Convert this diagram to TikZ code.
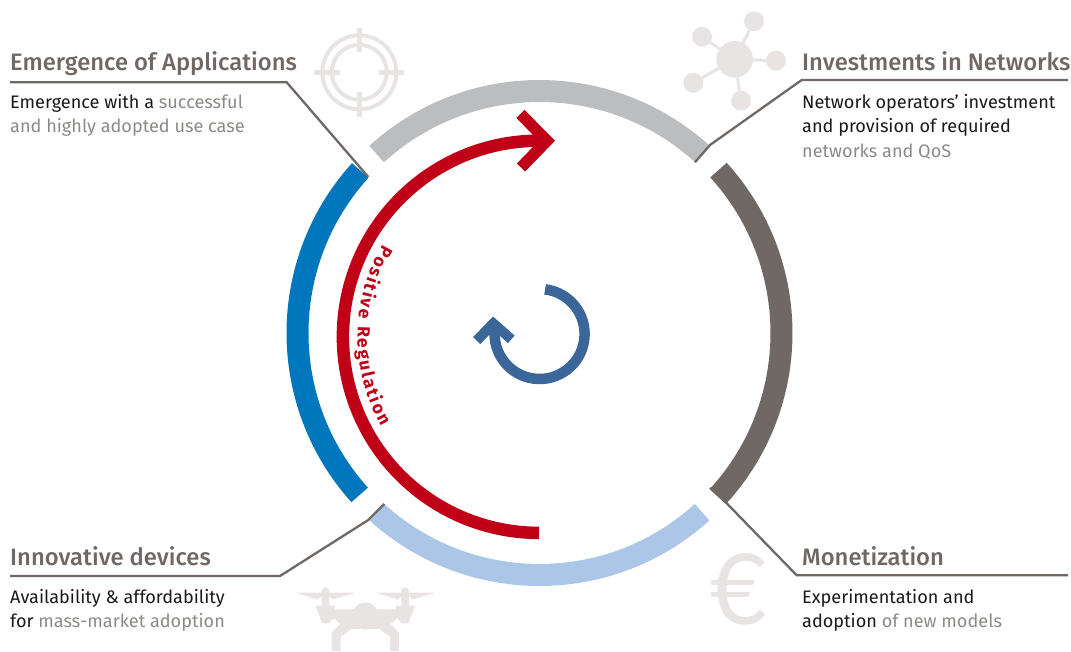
\documentclass[tikz,border=0pt]{standalone}
\usepackage{fontspec}
\setmainfont{Fira Sans}
\newfontfamily\headfont{Fira Sans Medium}
\newfontfamily\euroglyph{Lato}
\usetikzlibrary{decorations.text}

\definecolor{ringblue}{HTML}{0077BC}
\definecolor{ringgrey}{HTML}{BBBDBF}
\definecolor{ringbrown}{HTML}{6F6864}
\definecolor{ringsky}{HTML}{ABC6E6}
\definecolor{loopred}{HTML}{C00017}
\definecolor{loopblue}{HTML}{3B6699}
\definecolor{iconfill}{HTML}{E7E4E3}
\definecolor{softtext}{HTML}{8E8987}

\tikzset{
  segment/.style={line width=22pt},
  leader/.style={draw=ringbrown,line width=2.3pt},
  headlabel/.style={anchor=base west,inner sep=0pt,text=ringbrown,font=\headfont\fontsize{23.8}{28}\selectfont},
  bodylabel/.style={anchor=base west,inner sep=0pt,text=black!90,font=\fontsize{18.1}{22}\selectfont},
}

\begin{document}
\begin{tikzpicture}[x=1pt,y=1pt]
  \useasboundingbox (0,0) rectangle (1071,651);

  \newcommand\ringarc[4]{\draw[segment,#1] ([shift={(ringc)}]#2:#4) arc[start angle=#2,end angle=#3,radius=#4];}

  \coordinate (ringc) at (539.5,318);
  \coordinate (loopc) at (539,314.2);
  \coordinate (turnc) at (539.6,317);

  % icons first, everything else sits on top
  % target
  \coordinate (target) at (359.3,578.7);
  \draw[iconfill,line width=4pt] (target) circle (37) (target) circle (27.5);
  \draw[iconfill,line width=4.5pt]
    (314.3,578.7) -- (340,578.7) (379,578.7) -- (404,578.7)
    (359.3,623.3) -- (359.3,598.7) (359.3,558.7) -- (359.3,533.7);

  % network
  \node[circle,fill=iconfill,minimum size=36.6pt,inner sep=0pt] (hub) at (734.7,591.7) {};
  \foreach \name/\px/\py in {sata/754/629.7,satb/702/614.3,satc/776/590.3,satd/693.3/568.3,sate/741/550.3}{
    \node[circle,fill=iconfill,minimum size=20pt,inner sep=0pt] (\name) at (\px,\py) {};
    \draw[iconfill,line width=3pt] (hub) -- (\name);
  }

  % drone
  \foreach \s in {1,-1}{
    \begin{scope}[shift={(365.33,171)},xscale=\s,x=.3333pt,y=-.3333pt]
      \fill[iconfill] (-208,338) -- (-31,338) -- (-96,358) -- (-108,350) -- (-131,350) -- (-144,358) -- cycle;
      \fill[iconfill,rounded corners=3.5pt] (-131,385) rectangle (-108,322);
      \fill[iconfill] (-149,377) -- (-91,377) -- (-91,388) -- (-40,388) -- (0,388) -- (0,447) -- (-41,447)
        -- (-74,470) -- (-74,513) -- (-101,513) -- (-101,458) -- (-76,432) -- (-94,415) -- (-111,430) -- (-130,430) -- cycle;
      \fill[iconfill] (0,408) circle (40);
    \end{scope}
  }

  % euro
  \node[inner sep=0pt,text=iconfill,font=\euroglyph\fontsize{98}{98}\selectfont] (euro) at (739,62) {€};

  % ring
  \ringarc{ringgrey}{132.3}{47.7}{242}
  \ringarc{ringblue}{137.8}{222}{242}
  \ringarc{ringsky}{227.8}{312.2}{242}
  \ringarc{ringbrown}{42.3}{-42.3}{242}

  % red arrow
  \draw[loopred,line width=12.5pt] ([shift={(loopc)}]88:196.1) arc[start angle=88,end angle=270,radius=196.1];
  \draw[loopred,line width=11.5pt,miter limit=4] (520.4,537) -- (547,510.3) -- (521,483.5);
  \path[decorate,decoration={text along path,text align={fit to path},
      text={|\bfseries\color{loopred}\fontsize{17.5}{22}\selectfont|Positive Regulation}}]
    ([shift={(loopc)}]149.5:181.5) arc[start angle=149.5,end angle=209.5,radius=181.5];

  % blue turn
  \draw[loopblue,line width=10.5pt] ([shift={(turnc)}]83:45) arc[start angle=83,end angle=-180,radius=45] -- (494.3,326);
  \draw[loopblue,line width=10pt] (476.7,310.4) -- (493.3,327.6) -- (511.3,311.7);

  % labels
  \node[headlabel] (apphead) at (10,580) {Emergence of Applications};
  \node[bodylabel] (appa) at (10,542) {Emergence with a {\color{softtext}successful}};
  \node[bodylabel] (appb) at (10,518) {\color{softtext}and highly adopted use case};

  \node[headlabel] (nethead) at (802,580) {Investments in Networks};
  \node[bodylabel] (neta) at (802,542) {Network operators’ investment};
  \node[bodylabel] (netb) at (802,518) {and provision of required};
  \node[bodylabel] (netc) at (802,493) {\color{softtext}networks and QoS};

  \node[headlabel] (devhead) at (10,86) {Innovative devices};
  \node[bodylabel] (deva) at (10,47.5) {Availability \& affordability};
  \node[bodylabel] (devb) at (10,23.5) {for {\color{softtext}mass-market adoption}};

  \node[headlabel] (monhead) at (802,86) {Monetization};
  \node[bodylabel] (mona) at (802,47.5) {Experimentation and};
  \node[bodylabel] (monb) at (802,23.5) {adoption {\color{softtext}of new models}};

  % leaders
  \coordinate (appl) at (10,568.7);
  \coordinate (appk) at (286.7,568.7);
  \coordinate (appe) at (368.3,474);
  \draw[leader] (appl) -- (appk) -- (appe);

  \coordinate (netl) at (1068,571);
  \coordinate (netk) at (801.7,571);
  \coordinate (netm) at (710,506);
  \coordinate (nete) at (695,488.7);
  \draw[leader] (netl) -- (netk) -- (netm) -- (nete);

  \coordinate (devl) at (10,75);
  \coordinate (devk) at (280,75);
  \coordinate (devm) at (368.3,131);
  \coordinate (deve) at (384.3,147);
  \draw[leader] (devl) -- (devk) -- (devm) -- (deve);

  \coordinate (monl) at (1068,75.7);
  \coordinate (monk) at (796.7,75.7);
  \coordinate (monm) at (726.7,147.7);
  \coordinate (mone) at (710,163);
  \draw[leader] (monl) -- (monk) -- (monm) -- (mone);
\end{tikzpicture}
\end{document}
